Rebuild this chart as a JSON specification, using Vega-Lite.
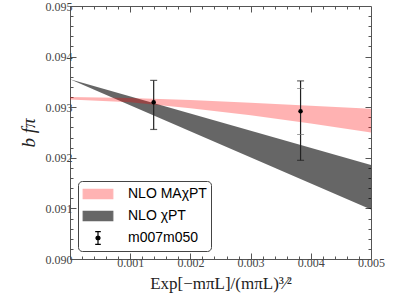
{
  "$schema": "https://vega.github.io/schema/vega-lite/v6.json",
  "width": 301,
  "height": 253,
  "autosize": "none",
  "padding": {"left": 70, "top": 6, "right": 28, "bottom": 40},
  "background": "white",
  "config": {
    "view": {"stroke": "#555", "strokeWidth": 1},
    "axis": {"grid": false, "domain": false}
  },
  "datasets": {
    "gray": [
      {"x": 0, "lo": 0.09355, "hi": 0.09355},
      {"x": 0.005, "lo": 0.09098, "hi": 0.09186}
    ],
    "red": [
      {"x": 0, "lo": 0.09315, "hi": 0.0932},
      {"x": 0.001, "lo": 0.0931, "hi": 0.09318},
      {"x": 0.002, "lo": 0.09298, "hi": 0.09314},
      {"x": 0.003, "lo": 0.09284, "hi": 0.09309},
      {"x": 0.004, "lo": 0.09268, "hi": 0.09303},
      {"x": 0.005, "lo": 0.0925, "hi": 0.09297}
    ],
    "pts": [
      {"x": 0.00139, "y": 0.0931, "lo": 0.09256, "hi": 0.09353, "series": "m007m050"},
      {"x": 0.00383, "y": 0.09292, "lo": 0.09195, "hi": 0.09352, "series": "m007m050"}
    ],
    "inner": [
      {"x": 0.00383, "v": 0.09337},
      {"x": 0.00383, "v": 0.09246}
    ],
    "series": [
      {"series": "NLO MAχPT"},
      {"series": "NLO χPT"},
      {"series": "m007m050"}
    ]
  },
  "resolve": {"axis": {"x": "independent", "y": "independent"}},
  "layer": [
    {
      "data": {"name": "gray"},
      "mark": {"type": "area", "clip": true, "color": "#000000", "opacity": 0.6},
      "encoding": {
        "x": {
          "field": "x", "type": "quantitative",
          "scale": {"domain": [0, 0.005], "nice": false, "zero": false},
          "axis": {
            "orient": "bottom",
            "values": [0.0002, 0.0004, 0.0006, 0.0008, 0.001, 0.0012, 0.0014, 0.0016, 0.0018, 0.002, 0.0022, 0.0024, 0.0026, 0.0028, 0.003, 0.0032, 0.0034, 0.0036, 0.0038, 0.004, 0.0042, 0.0044, 0.0046, 0.0048, 0.005],
            "labelExpr": "abs(datum.value*1000 - round(datum.value*1000)) < 0.01 ? format(datum.value, '.3f') : ''",
            "tickSize": {"condition": {"test": "abs(datum.value*1000 - round(datum.value*1000)) < 0.01", "value": -6}, "value": -3},
            "tickColor": "#555",
            "labelFont": "Liberation Serif", "labelFontSize": 12, "labelColor": "#444",
            "labelPadding": 4, "labelFlush": false, "labelOverlap": false,
            "title": "Exp[−mπL]/(mπL)³⁄²",
            "titleFont": "Liberation Serif", "titleFontSize": 17, "titleFontWeight": "normal", "titleColor": "#222",
            "titlePadding": 4
          }
        },
        "y": {
          "field": "lo", "type": "quantitative",
          "scale": {"domain": [0.09, 0.095], "nice": false, "zero": false},
          "axis": {
            "orient": "left",
            "values": [0.09, 0.0902, 0.0904, 0.0906, 0.0908, 0.091, 0.0912, 0.0914, 0.0916, 0.0918, 0.092, 0.0922, 0.0924, 0.0926, 0.0928, 0.093, 0.0932, 0.0934, 0.0936, 0.0938, 0.094, 0.0942, 0.0944, 0.0946, 0.0948, 0.095],
            "labelExpr": "abs(datum.value*1000 - round(datum.value*1000)) < 0.01 ? format(datum.value, '.3f') : ''",
            "tickSize": {"condition": {"test": "abs(datum.value*1000 - round(datum.value*1000)) < 0.01", "value": -6}, "value": -3},
            "tickColor": "#555",
            "labelFont": "Liberation Serif", "labelFontSize": 12, "labelColor": "#444",
            "labelPadding": 4, "labelFlush": false, "labelOverlap": false,
            "title": "b fπ",
            "titleFont": "Liberation Serif", "titleFontSize": 19, "titleFontWeight": "normal", "titleFontStyle": "italic", "titleColor": "#222",
            "titlePadding": 7
          }
        },
        "y2": {"field": "hi"}
      }
    },
    {
      "data": {"name": "red"},
      "mark": {"type": "area", "clip": true, "color": "#ff0000", "opacity": 0.3},
      "encoding": {
        "x": {"field": "x", "type": "quantitative", "axis": null},
        "y": {"field": "lo", "type": "quantitative", "axis": null},
        "y2": {"field": "hi"}
      }
    },
    {
      "data": {"name": "pts"},
      "mark": {"type": "rule", "color": "#222", "strokeWidth": 1.2},
      "encoding": {
        "x": {
          "field": "x", "type": "quantitative",
          "axis": {
            "orient": "top",
            "values": [0.0002, 0.0004, 0.0006, 0.0008, 0.001, 0.0012, 0.0014, 0.0016, 0.0018, 0.002, 0.0022, 0.0024, 0.0026, 0.0028, 0.003, 0.0032, 0.0034, 0.0036, 0.0038, 0.004, 0.0042, 0.0044, 0.0046, 0.0048],
            "labels": false,
            "title": null,
            "tickSize": {"condition": {"test": "abs(datum.value*1000 - round(datum.value*1000)) < 0.01", "value": -6}, "value": -3},
            "tickColor": "#555"
          }
        },
        "y": {
          "field": "lo", "type": "quantitative",
          "axis": {
            "orient": "right",
            "values": [0.0902, 0.0904, 0.0906, 0.0908, 0.091, 0.0912, 0.0914, 0.0916, 0.0918, 0.092, 0.0922, 0.0924, 0.0926, 0.0928, 0.093, 0.0932, 0.0934, 0.0936, 0.0938, 0.094, 0.0942, 0.0944, 0.0946, 0.0948],
            "labels": false,
            "title": null,
            "tickSize": {"condition": {"test": "abs(datum.value*1000 - round(datum.value*1000)) < 0.01", "value": -6}, "value": -3},
            "tickColor": "#555"
          }
        },
        "y2": {"field": "hi"}
      }
    },
    {
      "data": {"name": "pts"},
      "mark": {"type": "tick", "orient": "horizontal", "color": "#222", "size": 7, "thickness": 1.2},
      "encoding": {
        "x": {"field": "x", "type": "quantitative", "axis": null},
        "y": {"field": "lo", "type": "quantitative", "axis": null}
      }
    },
    {
      "data": {"name": "pts"},
      "mark": {"type": "tick", "orient": "horizontal", "color": "#222", "size": 7, "thickness": 1.2},
      "encoding": {
        "x": {"field": "x", "type": "quantitative", "axis": null},
        "y": {"field": "hi", "type": "quantitative", "axis": null}
      }
    },
    {
      "data": {"name": "inner"},
      "mark": {"type": "tick", "orient": "horizontal", "color": "#777", "size": 7, "thickness": 1},
      "encoding": {
        "x": {"field": "x", "type": "quantitative", "axis": null},
        "y": {"field": "v", "type": "quantitative", "axis": null}
      }
    },
    {
      "data": {"name": "pts"},
      "mark": {"type": "point", "filled": true, "size": 20, "opacity": 1, "color": "#000000"},
      "encoding": {
        "x": {"field": "x", "type": "quantitative", "axis": null},
        "y": {"field": "y", "type": "quantitative", "axis": null}
      }
    },
    {
      "data": {"name": "series"},
      "transform": [{"filter": "false"}],
      "mark": {"type": "point", "filled": true, "opacity": 1, "strokeWidth": 1.2},
      "encoding": {
        "fill": {
          "field": "series", "type": "nominal",
          "scale": {"domain": ["NLO MAχPT", "NLO χPT", "m007m050"], "range": ["#ffb3b3", "#666666", "#000000"]},
          "legend": {
            "title": null,
            "orient": "bottom-left",
            "offset": 8,
            "padding": 4,
            "rowPadding": 5,
            "symbolSize": 256,
            "symbolOffset": 7,
            "symbolStrokeWidth": 1.2,
            "labelOffset": 21,
            "labelFont": "Liberation Sans",
            "labelFontSize": 14,
            "labelColor": "#000",
            "strokeColor": "#444",
            "cornerRadius": 4,
            "fillColor": "white"
          }
        },
        "stroke": {
          "field": "series", "type": "nominal",
          "scale": {"domain": ["NLO MAχPT", "NLO χPT", "m007m050"], "range": ["#ffb3b3", "#666666", "#000000"]}
        },
        "shape": {
          "field": "series", "type": "nominal",
          "scale": {"domain": ["NLO MAχPT", "NLO χPT", "m007m050"], "range": ["M-1.85,-0.58H1.85V0.58H-1.85Z", "M-1.85,-0.58H1.85V0.58H-1.85Z", "M0,-0.8V0.8M-0.35,-0.8H0.35M-0.35,0.8H0.35M0.25,0A0.25,0.25,0,1,1,-0.25,0A0.25,0.25,0,1,1,0.25,0Z"]}
        }
      }
    }
  ]
}
